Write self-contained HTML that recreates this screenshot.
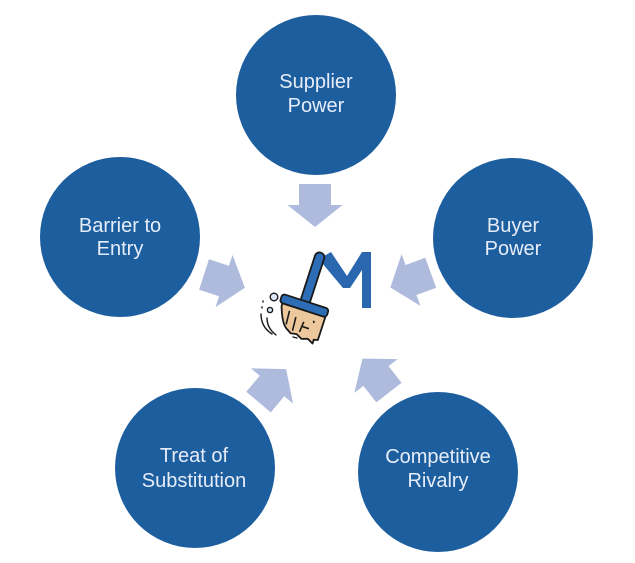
<!DOCTYPE html>
<html>
<head>
<meta charset="utf-8">
<style>
  html,body{margin:0;padding:0;background:#ffffff;}
  svg{display:block;}
  text{font-family:"Liberation Sans",sans-serif;font-size:20px;fill:#e6edf8;text-anchor:middle;}
</style>
</head>
<body>
<svg width="635" height="563" viewBox="0 0 635 563" xmlns="http://www.w3.org/2000/svg">
  <defs>
    <polygon id="arr" points="-21,-16 0,-16 0,-27.5 22,0 0,27.5 0,16 -21,16"/>
  </defs>

  <!-- circles -->
  <g fill="#1d5e9f">
    <circle cx="316" cy="95" r="80"/>
    <circle cx="120" cy="237" r="80"/>
    <circle cx="513" cy="238" r="80"/>
    <circle cx="195" cy="468" r="80"/>
    <circle cx="438" cy="472" r="80"/>
  </g>

  <!-- labels -->
  <text x="316" y="88">Supplier</text>
  <text x="316" y="112">Power</text>
  <text x="120" y="232">Barrier to</text>
  <text x="120" y="255">Entry</text>
  <text x="513" y="232">Buyer</text>
  <text x="513" y="255">Power</text>
  <text x="194" y="462">Treat of</text>
  <text x="194" y="487">Substitution</text>
  <text x="438" y="463">Competitive</text>
  <text x="438" y="487">Rivalry</text>

  <!-- arrows -->
  <g fill="#aebbdd">
    <use href="#arr" transform="translate(315,205) rotate(90)"/>
    <use href="#arr" transform="translate(224,281) rotate(18)"/>
    <use href="#arr" transform="translate(411,280) rotate(160)"/>
    <use href="#arr" transform="translate(272,386) rotate(-50)"/>
    <use href="#arr" transform="translate(376,376) rotate(-128)"/>
  </g>

  <!-- logo: M -->
  <polygon fill="#2b67ae" points="324,256 331,252 347,276 362,252 371,252 371,308 362,308 362,270 350,288 343,288 322,263"/>

  <!-- sparkle bits -->
  <g stroke="#1a1a1a" stroke-width="1.4" fill="none" stroke-linecap="round">
    <circle cx="274" cy="297" r="3.8" fill="#dbe8f6"/>
    <circle cx="270" cy="310" r="2.6" fill="#dbe8f6"/>
    <line x1="263" y1="301" x2="263" y2="302"/>
    <line x1="262" y1="307" x2="262" y2="308"/>
    <path d="M261,314 Q261,327 272,334"/>
    <path d="M267,318 Q267,328 276,335"/>
    <line x1="293" y1="337" x2="297" y2="338"/>
  </g>

  <!-- broom -->
  <g transform="translate(304,305) rotate(18)" stroke="#1a1a1a" stroke-width="1.8" stroke-linejoin="round">
    <path d="M-21,5 L24,5 L24,29 L20,30 L20,34 L14,31 L8,33 L2,30 L-4,31 L-9,28 Q-15,25 -21,8 Z" fill="#ecc89c"/>
    <path d="M-12,10 L-11,24 M-4,14 L-3,28 M5,16 L4,27 M5,21 L12,21 M14,12 L15,14" fill="none" stroke-width="1.6"/>
    <rect x="-4.8" y="-55" width="9.6" height="54" rx="4.8" fill="#2d6db5"/>
    <rect x="-24" y="-4" width="49" height="9" rx="3" fill="#2d6db5"/>
  </g>
</svg>
</body>
</html>
